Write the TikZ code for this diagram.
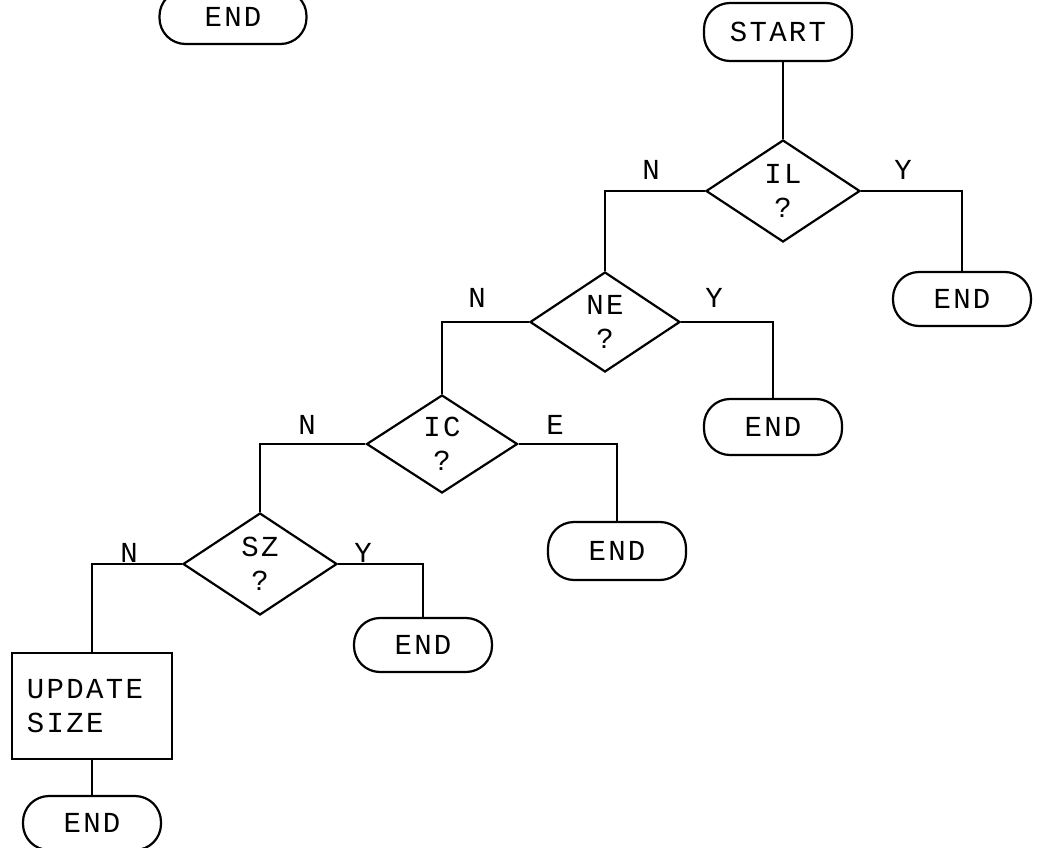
\documentclass[tikz,border=0pt]{standalone}
\usepackage{fontspec}
\setmonofont[LetterSpace=8]{Liberation Mono}
\usetikzlibrary{shapes.geometric}
\begin{document}
\begin{tikzpicture}[x=1pt,y=-1pt,
  every node/.style={font=\ttfamily\fontsize{29}{34}\selectfont},
  term/.style={draw, line width=2.2pt, rounded corners=26pt, minimum width=138pt, minimum height=54pt, inner sep=0pt},
  decide/.style={draw, line width=2.2pt, diamond, minimum width=154pt, minimum height=102pt, inner sep=0pt, align=center},
  proc/.style={draw, line width=2.2pt, minimum width=160pt, minimum height=106pt, text width=130pt, align=left, inner sep=0pt},
  lab/.style={inner sep=0pt},
  conn/.style={line width=2.2pt}]
\useasboundingbox (0,0) rectangle (1044,848);
% terminals
\node[term, minimum width=147pt] (endtl) at (233,17) {END};
\node[term, minimum width=148pt, minimum height=58pt] (start) at (778,32) {START};
\node[term] (end1) at (962,299) {END};
\node[term, minimum height=56pt] (end2) at (773,427) {END};
\node[term, minimum height=58pt] (end3) at (617,551) {END};
\node[term] (end4) at (423,645) {END};
\node[term] (end5) at (92,823) {END};
% decisions
\node[decide] (il) at (783,191) {IL\\?};
\node[decide, minimum width=150pt, minimum height=100pt] (ne) at (605,322) {NE\\?};
\node[decide, minimum width=151pt, minimum height=98pt] (ic) at (442,444) {IC\\?};
\node[decide] (sz) at (260,564) {SZ\\?};
% process
\node[proc] (upd) at (92,706) {UPDATE\\SIZE};
% labels
\node[lab] (lil n) at (651,170) {N};
\node[lab] (lil y) at (903,170) {Y};
\node[lab] (lne n) at (477,298) {N};
\node[lab] (lne y) at (714,298) {Y};
\node[lab] (lic n) at (307,425) {N};
\node[lab] (lic e) at (555,425) {E};
\node[lab] (lsz n) at (129,553) {N};
\node[lab] (lsz y) at (363,553) {Y};
% connectors
\draw[conn] (il.north) -- (il.north |- start.south);
\draw[conn] (il.west) -| (ne.north);
\draw[conn] (il.east) -| (end1.north);
\draw[conn] (ne.west) -| (ic.north);
\draw[conn] (ne.east) -| (end2.north);
\draw[conn] (ic.west) -| (sz.north);
\draw[conn] (ic.east) -| (end3.north);
\draw[conn] (sz.west) -| (upd.north);
\draw[conn] (sz.east) -| (end4.north);
\draw[conn] (upd.south) -- (end5.north);
\end{tikzpicture}
\end{document}
